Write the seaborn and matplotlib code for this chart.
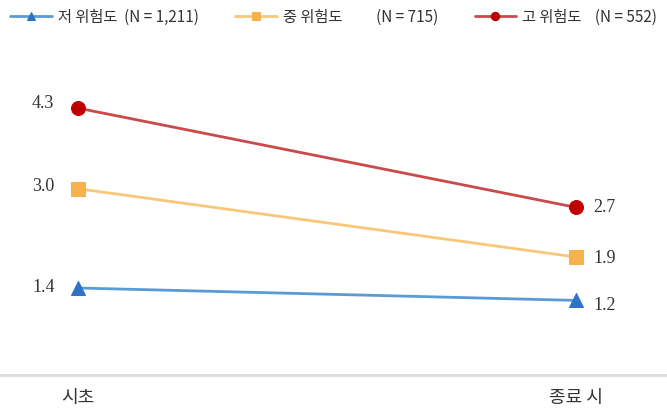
import matplotlib
matplotlib.use("Agg")
import pandas as pd
import matplotlib.pyplot as plt
import seaborn as sns

# datos
시점 = ['시초', '종료 시']
grupos = ['저 위험도  (N = 1,211)', '중 위험도          (N = 715)', '고 위험도    (N = 552)']
valores_bajo = [1.4, 1.2]
valores_medio = [3.0, 1.9]
valores_alto = [4.3, 2.7]

df = pd.DataFrame({
    'x': [0, 1] * 3,
    'valor': valores_bajo + valores_medio + valores_alto,
    'grupo': [grupos[0]] * 2 + [grupos[1]] * 2 + [grupos[2]] * 2,
})

sns.set_style('white')
plt.rcParams['font.family'] = ['Noto Sans CJK KR', 'DejaVu Sans']

fig = plt.figure(figsize=(6.67, 4.11), dpi=100)
ax = fig.add_axes([0, 0.088, 1, 0.83])

estilos = [('^', '#5B9BD5', '#2F72C9'),
           ('s', '#F9C77A', '#F6B24A'),
           ('o', '#C94A4A', '#C00000')]

for g, (m, c_linea, c_marca) in zip(grupos, estilos):
    sns.lineplot(data=df[df['grupo'] == g], x='x', y='valor', ax=ax,
                 color=c_linea, linewidth=2, marker=m, markersize=10,
                 markerfacecolor=c_marca, markeredgecolor=c_marca, label=g)

# etiquetas de valores
desp_izq = [0.0, 0.03, 0.07]
desp_der = [-0.09, -0.02, 0.0]
for vals, di, dd in zip([valores_bajo, valores_medio, valores_alto], desp_izq, desp_der):
    ax.text(-0.07, vals[0] + di, f'{vals[0]:.1f}', ha='center', va='center',
            fontsize=13, family='Liberation Serif', color='#333333')
    ax.text(1.057, vals[1] + dd, f'{vals[1]:.1f}', ha='center', va='center',
            fontsize=13, family='Liberation Serif', color='#333333')

ax.set_xlim(-0.157, 1.183)
ax.set_ylim(0, 5.5)
ax.set_xticks([0, 1])
ax.set_xticklabels(시점, fontsize=13, color='#333333')
ax.tick_params(axis='x', length=0, pad=10)
ax.set_yticks([])
ax.set_xlabel('')
ax.set_ylabel('')
for lado in ['top', 'right', 'left']:
    ax.spines[lado].set_visible(False)
ax.spines['bottom'].set_color('#D9D9D9')
ax.spines['bottom'].set_linewidth(2)

handles, labels = ax.get_legend_handles_labels()
ax.get_legend().remove()
fig.legend(handles, labels, loc='upper left', bbox_to_anchor=(0.003, 1.0), ncol=3,
           frameon=False, fontsize=11, handlelength=2.7, markerscale=0.6,
           handletextpad=0.4, columnspacing=2.4, labelcolor='#333333',
           borderaxespad=0.15)

fig.savefig('out.png', dpi=100)
